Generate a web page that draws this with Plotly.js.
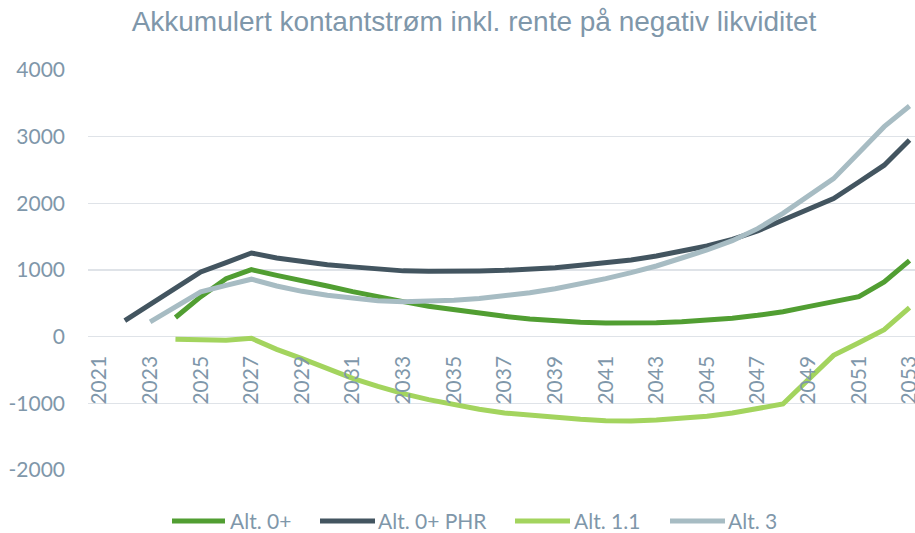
<!DOCTYPE html>
<html>
<head>
<meta charset="utf-8">
<script src="https://cdn.plot.ly/plotly-3.0.1.min.js"></script>
<style>html,body{margin:0;padding:0;background:#fff;}#chart{width:915px;height:533px;}</style>
</head>
<body>
<div id="chart"></div>
<script>
// ---- data ----
const years = [2021,2022,2023,2024,2025,2026,2027,2028,2029,2030,2031,2032,2033,2034,2035,2036,2037,2038,2039,2040,2041,2042,2043,2044,2045,2046,2047,2048,2049,2050,2051,2052,2053];
const tickYears = [2021,2023,2025,2027,2029,2031,2033,2035,2037,2039,2041,2043,2045,2047,2049,2051,2053];
const tickLabels = ["2021","2023","2025","2027","2029","2031","2033","2035","2037","2039","2041","2043","2045","2047","2049","2051","2053"];
const seriesNames = ["Alt. 0+", "Alt. 0+ PHR", "Alt. 1.1", "Alt. 3"];
const alt0 = [null,null,null,287,600,870,1005,920,845,760,675,595,525,455,400,345,305,265,237,215,205,200,210,225,250,275,320,375,450,520,600,820,1140];
const alt0PHR = [null,240,485,730,970,1110,1255,1180,1122,1080,1047,1010,987,980,978,985,995,1010,1035,1070,1110,1150,1210,1280,1360,1460,1585,1750,1910,2072,2320,2572,2950];
const alt11 = [null,null,null,-40,-55,-55,-25,-190,-330,-480,-625,-745,-855,-945,-1025,-1090,-1145,-1180,-1210,-1240,-1260,-1265,-1250,-1230,-1195,-1145,-1085,-1010,-645,-280,-90,105,435];
const alt3 = [null,null,222,450,672,770,862,760,680,620,575,540,522,530,547,572,610,660,720,790,870,960,1060,1180,1300,1440,1620,1850,2100,2370,2760,3150,3460];
const yTicks = [-2000,-1000,0,1000,2000,3000,4000];
const yTickLabels = ["-2000","-1000","0","1000","2000","3000","4000"];
const colors = ["#519e32", "#435560", "#a3d45e", "#a7bcc3"];

// ---- layout geometry ----
const W = 915, H = 533;
const M = {l: 88, r: 0, t: 70, b: 63};
const pw = W - M.l - M.r, ph = H - M.t - M.b;
const px = x => (x - M.l) / pw;
const py = y => (H - M.b - y) / ph;

const textColor = "#7f97aa";
const gridColor = "#dfe3e8";

const allSeries = [alt0, alt0PHR, alt11, alt3];
const traces = allSeries.map((s, i) => ({
  type: "scatter", mode: "lines", x: years, y: s, name: seriesNames[i],
  line: {color: colors[i], width: 5}, connectgaps: false, showlegend: false,
  hoverinfo: "x+y+name"
}));
const legendPos = [
  {l0: 172, l1: 225, t: 229},
  {l0: 320, l1: 375, t: 377},
  {l0: 515, l1: 570, t: 573},
  {l0: 670, l1: 725, t: 727}
];
const legLineY = 521;
const legTextY = 520;
const shapes = legendPos.map((p, i) => ({
  type: "line", xref: "paper", yref: "paper",
  x0: px(p.l0), x1: px(p.l1), y0: py(legLineY), y1: py(legLineY),
  line: {color: colors[i], width: 5}
}));
const annotations = legendPos.map((p, i) => ({
  xref: "paper", yref: "paper", x: px(p.t), y: py(legTextY),
  xanchor: "left", yanchor: "middle", showarrow: false,
  borderpad: 0, align: "left",
  text: seriesNames[i], font: {family: "Lato", size: 21, color: textColor}
}));

const layout = {
  width: W, height: H,
  margin: M,
  paper_bgcolor: "#ffffff", plot_bgcolor: "#ffffff",
  showlegend: false,
  title: {
    text: "Akkumulert kontantstrøm inkl. rente på negativ likviditet",
    font: {family: "Liberation Sans", size: 28, color: textColor},
    xref: "container", yref: "container",
    x: 474 / W, xanchor: "center",
    y: 1 - 21 / H, yanchor: "middle"
  },
  xaxis: {
    range: [2020.545, 2053.217],
    tickmode: "array", tickvals: tickYears, ticktext: tickLabels,
    tickangle: -90,
    tickfont: {family: "Lato", size: 21, color: textColor},
    showgrid: false, zeroline: false, showline: false,
    ticks: "", ticklabelstandoff: 14, ticklabeloverflow: "allow",
    anchor: "free", position: 1 / 3
  },
  yaxis: {
    range: [-2000, 4000],
    tickmode: "array", tickvals: yTicks, ticktext: yTickLabels,
    tickfont: {family: "Lato", size: 21, color: textColor},
    showgrid: true, gridcolor: gridColor, gridwidth: 1.5,
    zeroline: true, zerolinecolor: gridColor, zerolinewidth: 1.5,
    showline: false, ticks: "", ticklabelstandoff: 22
  },
  shapes: shapes,
  annotations: annotations
};

Plotly.newPlot("chart", traces, layout, {displayModeBar: false, staticPlot: true});
</script>
</body>
</html>
